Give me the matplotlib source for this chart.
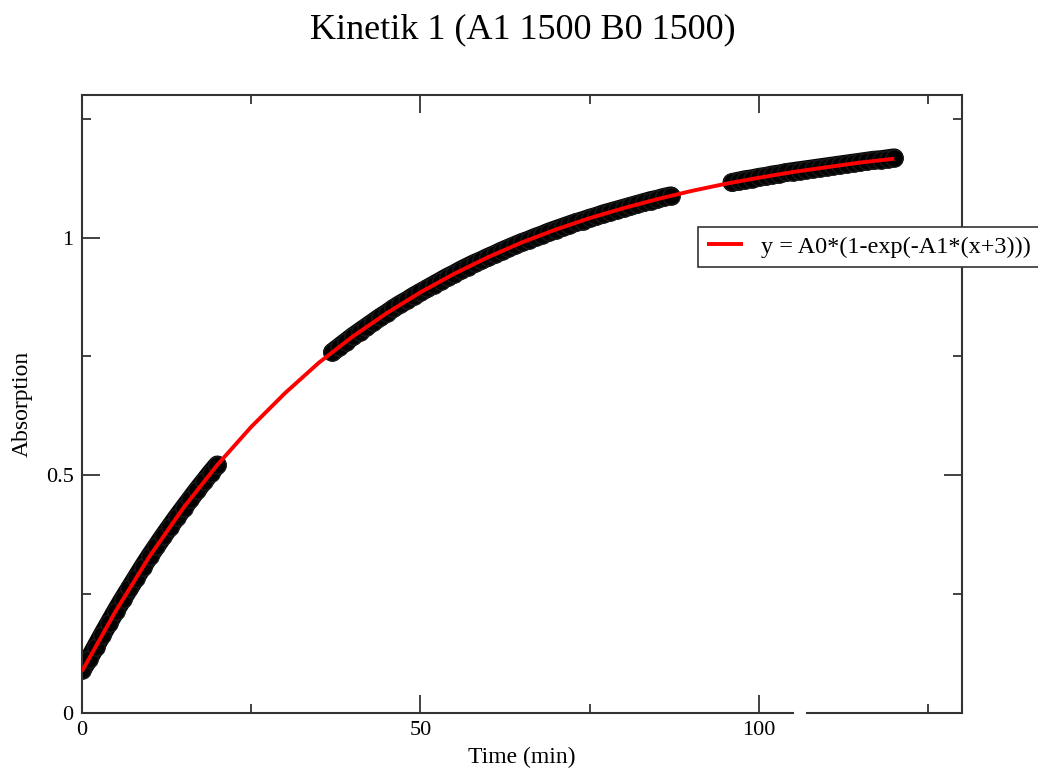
import matplotlib
matplotlib.use("Agg")
import matplotlib.pyplot as plt
from matplotlib.patches import Rectangle

# ---- data ----
seg1_x = list(range(0, 21))
seg1_y = [0.090, 0.113, 0.139, 0.165, 0.190, 0.215, 0.239, 0.262, 0.285, 0.308,
          0.330, 0.351, 0.372, 0.392, 0.412, 0.431, 0.450, 0.469, 0.487, 0.505, 0.522]
seg2_x = list(range(37, 88))
seg2_y = [0.759, 0.770, 0.781, 0.792, 0.802, 0.812, 0.822, 0.832, 0.841, 0.851,
          0.860, 0.868, 0.877, 0.885, 0.893, 0.901, 0.909, 0.917, 0.924, 0.932,
          0.939, 0.946, 0.952, 0.959, 0.965, 0.972, 0.978, 0.984, 0.990, 0.995,
          1.001, 1.006, 1.012, 1.017, 1.022, 1.027, 1.032, 1.036, 1.041, 1.045,
          1.050, 1.054, 1.058, 1.062, 1.066, 1.070, 1.074, 1.078, 1.081, 1.085, 1.088]
seg3_x = list(range(96, 121))
seg3_y = [1.116, 1.119, 1.122, 1.124, 1.127, 1.129, 1.132, 1.134, 1.137, 1.139,
          1.141, 1.143, 1.145, 1.147, 1.149, 1.151, 1.153, 1.155, 1.157, 1.159,
          1.161, 1.163, 1.164, 1.166, 1.168]

fit_x = [0, 5, 10, 15, 20, 25, 30, 35, 40, 45, 50, 55, 60, 65, 70, 75, 80, 85,
         90, 95, 100, 105, 110, 115, 120]
fit_y = [0.088, 0.215, 0.330, 0.432, 0.522, 0.602, 0.673, 0.737, 0.792, 0.841,
         0.885, 0.924, 0.959, 0.990, 1.017, 1.041, 1.062, 1.081, 1.098, 1.113,
         1.126, 1.138, 1.148, 1.158, 1.166]

title = "Kinetik 1 (A1 1500 B0 1500)"
legend_label = "y = A0*(1-exp(-A1*(x+3)))"
x_ticks = [0, 50, 100]
y_ticks = [0, 0.5, 1]
y_ticklabels = ["0", "0.5", "1"]

plt.rcParams['font.family'] = ['Liberation Serif', 'DejaVu Serif']

W, H = 1038, 772
fig = plt.figure(figsize=(W / 100, H / 100), dpi=100)
fig.patch.set_facecolor('white')
L, R, T, B = 82, 962, 95, 713
ax = fig.add_axes([L / W, 1 - B / H, (R - L) / W, (B - T) / H])

# dense, overlapping circle markers form a continuous thick band
for xs, ys in [(seg1_x, seg1_y), (seg2_x, seg2_y), (seg3_x, seg3_y)]:
    ax.plot(xs, ys, linestyle='-', linewidth=13.5, color='black',
            solid_capstyle='round', solid_joinstyle='round', zorder=2)
    ax.plot(xs, ys, linestyle='none', marker='o', markersize=12.5,
            markerfacecolor='black', markeredgecolor='#1a1a1a',
            markeredgewidth=1.0, zorder=2)

ax.plot(fit_x, fit_y, color='#ff0000', linewidth=2.8, zorder=3,
        label=legend_label, solid_capstyle='butt')

ax.set_xlim(0, 130)
ax.set_ylim(0, 1.3)
ax.set_xticks(x_ticks)
ax.set_xticks([25, 75, 125], minor=True)
ax.set_yticks(y_ticks)
ax.set_yticklabels(y_ticklabels)
ax.set_yticks([0.25, 0.75, 1.25], minor=True)

ax.tick_params(which='both', direction='in', top=True, right=True,
               colors='#333333', labelcolor='black', labelsize=16, width=1.3)
ax.tick_params(which='major', length=13, pad=6)
ax.tick_params(which='minor', length=6.5)
for s in ax.spines.values():
    s.set_linewidth(1.5)
    s.set_color('#333333')

ax.set_xlabel("Time (min)", fontsize=17, va='center')
ax.xaxis.set_label_coords(0.5, -(757 - B) / (B - T))
ax.set_ylabel("Absorption", fontsize=17, va='center', ha='center')
ax.yaxis.set_label_coords(-(L - 22) / (R - L), 0.5)

fig.text(523 / W, 1 - 30 / H, title, fontsize=26, ha='center', va='center')

leg = ax.legend(loc='upper left', bbox_to_anchor=(698 / W, 1 - 227 / H),
                bbox_transform=fig.transFigure, borderaxespad=0,
                fontsize=17.5, frameon=True, fancybox=False, shadow=False,
                handlelength=1.5, handletextpad=0.72, borderpad=0.36)
leg.get_frame().set_edgecolor('#333333')
leg.get_frame().set_linewidth(1.2)
leg.get_frame().set_alpha(1)

# small gap in the bottom frame line
fig.patches.append(Rectangle((794 / W, 1 - 716 / H), 12 / W, 6 / H,
                             transform=fig.transFigure, facecolor='white',
                             edgecolor='none', zorder=10))

fig.savefig("out.png", dpi=100)
